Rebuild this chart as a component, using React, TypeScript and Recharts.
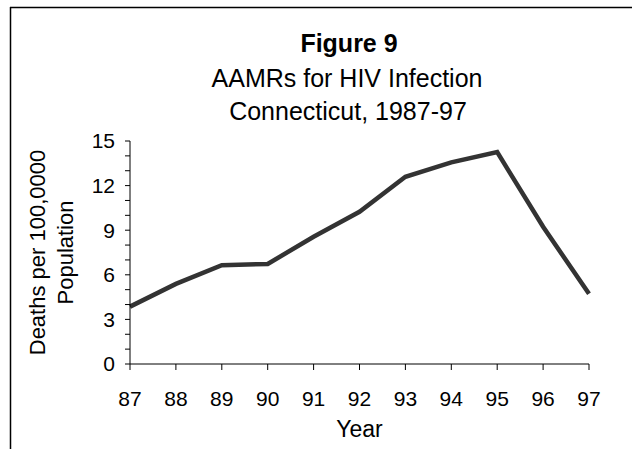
import React from 'react';
import { LineChart, Line, XAxis, YAxis } from 'recharts';

const years = [87, 88, 89, 90, 91, 92, 93, 94, 95, 96, 97];
const rates = [3.86, 5.39, 6.64, 6.73, 8.56, 10.24, 12.59, 13.56, 14.25, 9.23, 4.72];
const yTicks = [0, 1, 2, 3, 4, 5, 6, 7, 8, 9, 10, 11, 12, 13, 14, 15];

const titleLines = ['AAMRs for HIV Infection', 'Connecticut, 1987-97'];
const yLabelLines = ['Deaths per 100,0000', 'Population'];

const data = years.map((year, i) => ({ year, rate: rates[i] }));

const FONT = '"Liberation Sans", Arial, sans-serif';

const YTick = (props: any) => {
  const { x, y, payload } = props;
  if (payload.value % 3 !== 0) return null;
  return (
    <text x={x} y={y} dy="0.355em" textAnchor="end" fontSize={21} fontFamily={FONT} fill="#000">
      {payload.value}
    </text>
  );
};

const YLabel = () => {
  const cy = 252.5;
  return (
    <g>
      {yLabelLines.map((line, i) => {
        const x = i === 0 ? 37.5 : 65;
        return (
          <text
            key={line}
            x={x}
            y={cy}
            transform={`rotate(-90, ${x}, ${cy})`}
            textAnchor="middle"
            dominantBaseline="central"
            fontSize={22}
            fontFamily={FONT}
            fill="#000"
          >
            {line}
          </text>
        );
      })}
    </g>
  );
};

const XLabel = () => (
  <text x={359.5} y={437} textAnchor="middle" fontSize={23} fontFamily={FONT} fill="#000">
    Year
  </text>
);

export default function App() {
  return (
    <div style={{ position: 'absolute', left: 0, top: 0, width: 632, height: 449, background: '#fff' }}>
      <LineChart
        width={632}
        height={449}
        data={data}
        margin={{ top: 141, right: 43, left: 0, bottom: 0 }}
      >
        <XAxis
          dataKey="year"
          type="number"
          domain={[87, 97]}
          ticks={years}
          interval={0}
          tickSize={6}
          tickMargin={21}
          stroke="#000"
          tick={{ fill: '#000', fontSize: 21, fontFamily: FONT }}
          label={<XLabel />}
          height={85}
        />
        <YAxis
          type="number"
          domain={[0, 15]}
          ticks={yTicks}
          interval={0}
          width={130}
          tickSize={5}
          tickMargin={10}
          stroke="#000"
          tick={<YTick />}
          label={<YLabel />}
        />
        <Line
          type="linear"
          dataKey="rate"
          stroke="#333333"
          strokeWidth={4.5}
          dot={false}
          isAnimationActive={false}
        />
      </LineChart>
      <svg
        width={632}
        height={449}
        style={{ position: 'absolute', left: 0, top: 0, pointerEvents: 'none' }}
      >
        <line x1={10.5} y1={7} x2={10.5} y2={449} stroke="#000" strokeWidth={1.5} />
        <line x1={10} y1={7.5} x2={632} y2={7.5} stroke="#000" strokeWidth={1.5} />
        <text x={349} y={52} textAnchor="middle" fontSize={25} fontWeight="bold" fontFamily={FONT} fill="#000">
          Figure 9
        </text>
        <text x={347} y={87} textAnchor="middle" fontSize={25} fontFamily={FONT} fill="#000">
          {titleLines[0]}
        </text>
        <text x={348} y={120} textAnchor="middle" fontSize={25} fontFamily={FONT} fill="#000">
          {titleLines[1]}
        </text>
      </svg>
    </div>
  );
}
